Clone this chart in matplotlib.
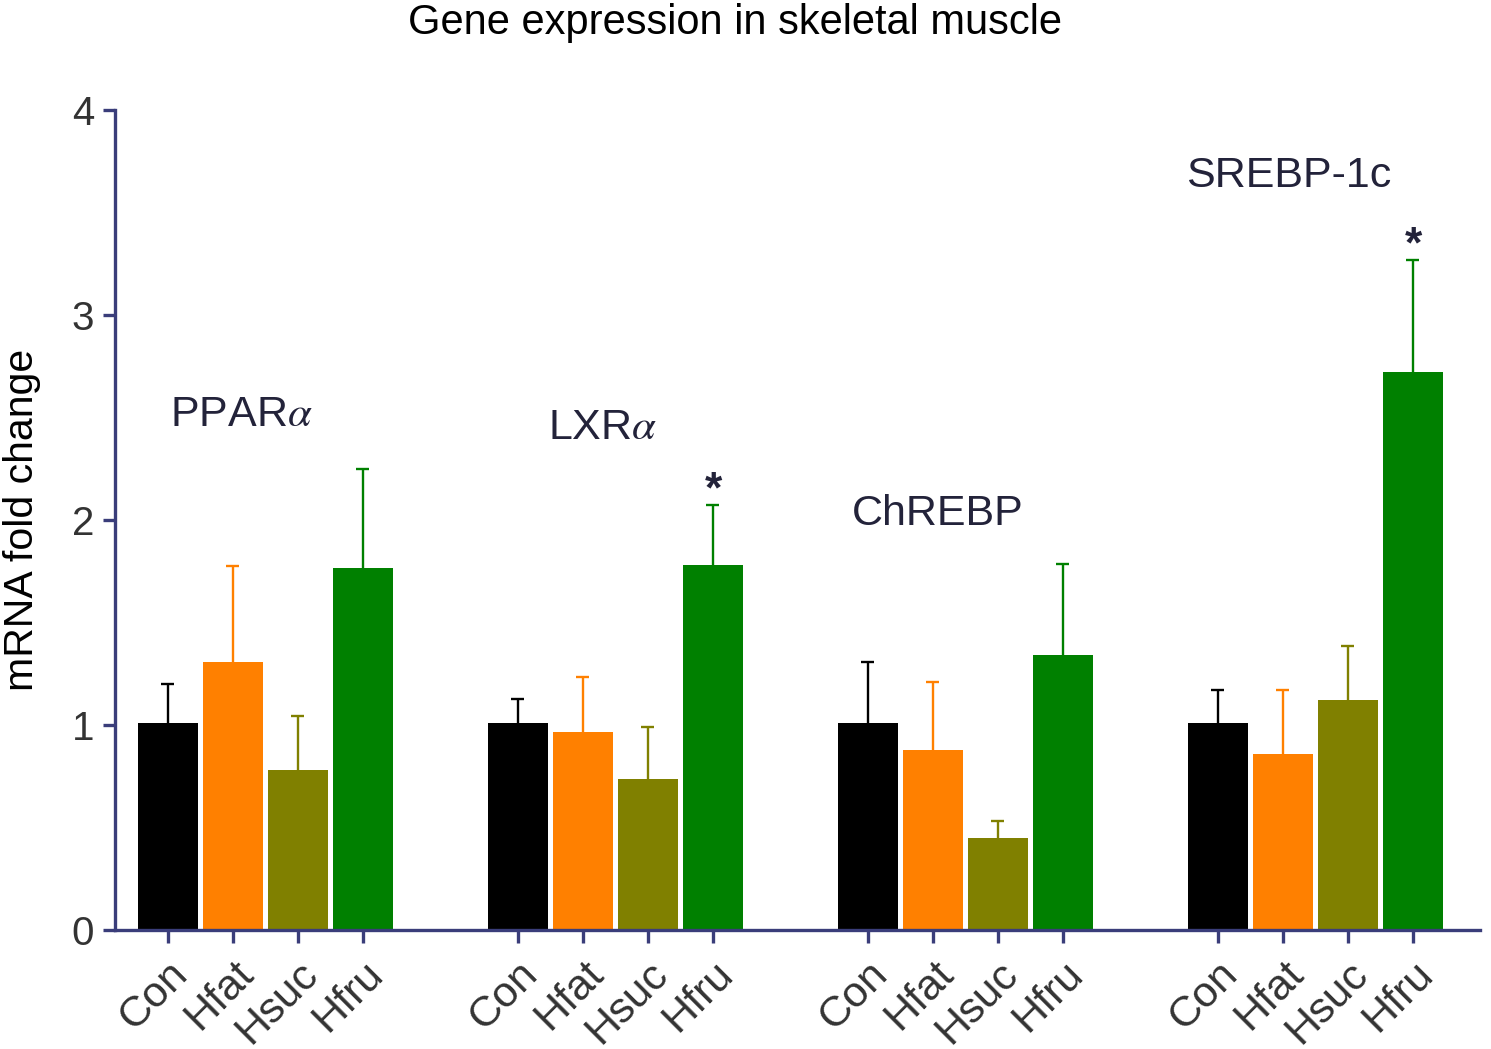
import matplotlib
matplotlib.use("Agg")
import matplotlib.pyplot as plt
import numpy as np

plt.rcParams['font.family'] = ['Liberation Sans', 'DejaVu Sans']
plt.rcParams['mathtext.fontset'] = 'stix'

genes = ["PPAR$\\alpha$", "LXR$\\alpha$", "ChREBP", "SREBP-1c"]
groups = ["Con", "Hfat", "Hsuc", "Hfru"]
colors = ["#000000", "#ff8000", "#808000", "#008000"]

means = {
    "Con":  [1.01, 1.01, 1.01, 1.01],
    "Hfat": [1.307, 0.966, 0.878, 0.859],
    "Hsuc": [0.78, 0.737, 0.449, 1.122],
    "Hfru": [1.766, 1.78, 1.341, 2.722],
}
err_top = {
    "Con":  [1.20, 1.127, 1.307, 1.171],
    "Hfat": [1.776, 1.234, 1.21, 1.171],
    "Hsuc": [1.044, 0.99, 0.532, 1.385],
    "Hfru": [2.249, 2.073, 1.785, 3.268],
}
# significance markers (gene index, group)
stars = [(1, "Hfru"), (3, "Hfru")]
label_pos = [(0.03, 2.51), (5.85, 2.45), (10.52, 2.03), (15.66, 3.68)]

group_offset = 350 / 65.0
width = 60 / 65.0
cap_half = 0.1
axis_col = "#3a3d7a"
text_col = "#23233a"

fig = plt.figure(figsize=(14.91, 10.49), dpi=100)
ax = fig.add_axes([115/1491, 1-930/1049, (1480-115)/1491, (930-110)/1049])

xticks, xlabels = [], []
for g in range(len(genes)):
    for i, grp in enumerate(groups):
        x = g * group_offset + i
        m = means[grp][g]
        top = err_top[grp][g]
        ax.bar(x, m, width=width, color=colors[i], zorder=2)
        ax.vlines(x, m, top, colors=colors[i], linewidth=1.7, zorder=1)
        ax.hlines(top, x - cap_half, x + cap_half, colors=colors[i], linewidth=1.7, zorder=1)
        xticks.append(x)
        xlabels.append(grp)

for (g, grp) in stars:
    x = g * group_offset + groups.index(grp)
    ax.text(x, err_top[grp][g] - 0.03, "*", ha='center', va='bottom',
            fontsize=32, fontweight='bold', color=text_col)

for g, (lx, ly) in enumerate(label_pos):
    ax.text(lx, ly, genes[g], ha='left', va='center', fontsize=31, color=text_col)

ax.set_xlim(-0.815, 20.185)
ax.set_ylim(0, 4)
ax.set_yticks([0, 1, 2, 3, 4])
ax.set_xticks(xticks)
ax.set_xticklabels(xlabels, rotation=45, ha='right', rotation_mode='anchor')
for s in ['top', 'right']:
    ax.spines[s].set_visible(False)
for s in ['left', 'bottom']:
    ax.spines[s].set_color(axis_col)
    ax.spines[s].set_linewidth(2.4)
ax.tick_params(axis='both', colors=axis_col, width=2.4, length=9,
               labelcolor="#333333")
ax.tick_params(axis='y', labelsize=29, pad=6)
ax.tick_params(axis='x', labelsize=31, pad=8)
ax.set_ylabel("mRNA fold change", fontsize=29.5, labelpad=22, color="#000000")

fig.text(735/1491, 1-23/1049, "Gene expression in skeletal muscle", ha='center',
         va='center', fontsize=30, color="#000000")

fig.savefig("out.png", dpi=100)
